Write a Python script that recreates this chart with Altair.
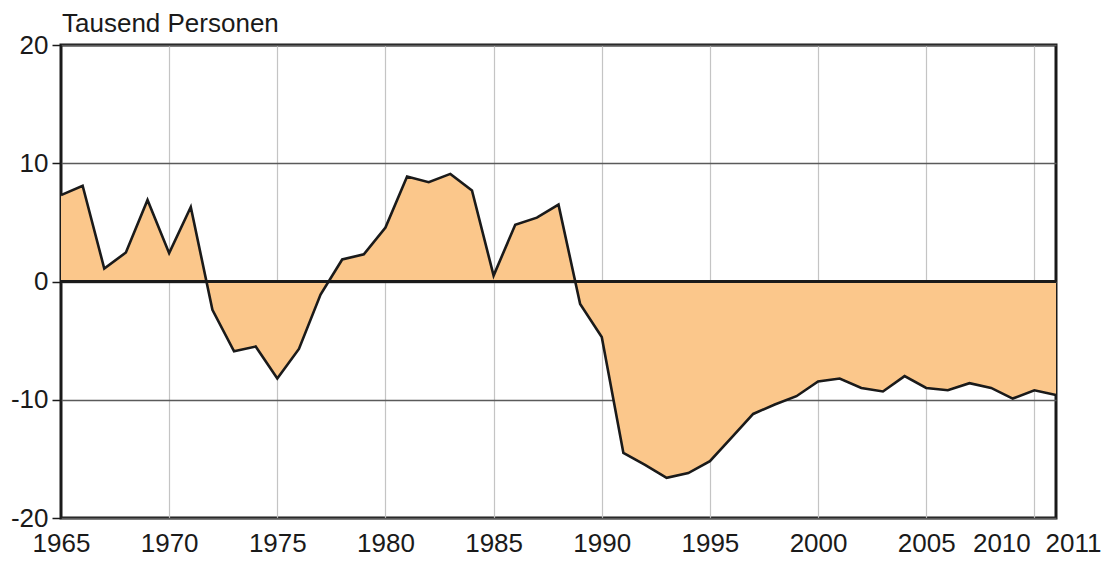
import altair as alt
import pandas as pd

years = list(range(1965, 2012))
values = [7.3, 8.1, 1.1, 2.45, 6.9, 2.4, 6.3, -2.4, -5.9, -5.5,
          -8.2, -5.7, -1.1, 1.86, 2.3, 4.56, 8.87, 8.4, 9.1, 7.7,
          0.5, 4.8, 5.4, 6.5, -1.9, -4.7, -14.5, -15.5, -16.6, -16.2,
          -15.2, -13.2, -11.2, -10.4, -9.7, -8.45, -8.2, -9.0, -9.3, -8.0,
          -9.0, -9.2, -8.6, -9.0, -9.9, -9.2, -9.6]
x_ticks = [1965, 1970, 1975, 1980, 1985, 1990, 1995, 2000, 2005, 2010, 2011]
y_ticks = [-20, -10, 0, 10, 20]
title_text = "Tausend Personen"

df = pd.DataFrame({"year": years, "value": values})
zero = pd.DataFrame({"y": [0]})
title_df = pd.DataFrame({"t": [title_text]})

FONT = "Liberation Sans"
FS = 26

x_enc = alt.X("year:Q", scale=alt.Scale(domain=[1965, 2011], nice=False, zero=False),
              axis=alt.Axis(values=x_ticks, title=None, format="d", ticks=False, domain=False,
                            labelFontSize=FS, labelFont=FONT, labelColor="#1a1a1a",
                            labelPadding=12, labelOverlap=False, labelFlush=False, labelBound=False,
                            labelOffset=alt.expr("datum.value == 2010 ? -33 : (datum.value == 2011 ? 17 : 0)"),
                            grid=True, gridWidth=1.2,
                            gridColor=alt.expr("(datum.value == 1965 || datum.value == 2011) ? 'transparent' : '#c4c4c4'")))
y_enc = alt.Y("value:Q", scale=alt.Scale(domain=[-20, 20], nice=False),
              axis=alt.Axis(values=y_ticks, title=None, domain=False,
                            labelExpr="'' + datum.value",
                            tickSize=9, tickColor="#1a1a1a", tickWidth=1.5,
                            labelFontSize=FS, labelFont=FONT, labelColor="#1a1a1a",
                            labelPadding=4, labelOverlap=False,
                            grid=True, gridColor="#5a5a5a", gridWidth=1.5))

area = alt.Chart(df).mark_area(color="#FBC78B", opacity=1, fillOpacity=1,
                               line={"color": "#1a1a1a", "strokeWidth": 2.6}).encode(
    x=x_enc, y=y_enc
)

rule = alt.Chart(zero).mark_rule(color="#1a1a1a", strokeWidth=3).encode(y="y:Q")

title = alt.Chart(title_df).mark_text(align="left", baseline="alphabetic", font=FONT,
                                      fontSize=FS, color="#1a1a1a").encode(
    x=alt.value(1), y=alt.value(-13), text="t:N"
)

chart = alt.layer(area, rule, title).properties(
    width=995, height=473,
    autosize=alt.AutoSizeParams(type="none"),
    padding={"left": 53, "top": 37, "right": 49, "bottom": 39},
).configure_view(stroke="#1a1a1a", strokeWidth=3)

chart.save("out.html", embed_options={"renderer": "svg", "actions": False})
